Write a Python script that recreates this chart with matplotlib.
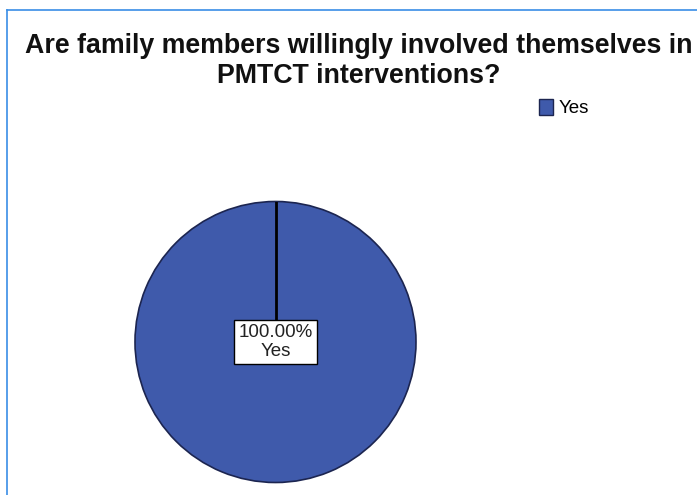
import matplotlib.pyplot as plt
from matplotlib.lines import Line2D
from matplotlib.patches import Patch

plt.rcParams["font.family"] = ["Liberation Sans", "DejaVu Sans"]

categories = ["Yes"]
percentages = [100.0]
title = "Are family members willingly involved themselves in\nPMTCT interventions?"

slice_colors = ["#3f5aab"]
edge_color = "#1c2550"

W, H = 697, 495
fig = plt.figure(figsize=(W / 100, H / 100), dpi=100)

# frame lines along top and left
fig.add_artist(Line2D([7 / W, 7 / W], [0, 1 - 10 / H], color="#3a8ee6", lw=1.2))
fig.add_artist(Line2D([7 / W, 1], [1 - 10 / H, 1 - 10 / H], color="#3a8ee6", lw=1.2))

fig.text(359 / W, 1 - 33 / H, title, ha="center", va="top", fontsize=19.3,
         fontweight="bold", linespacing=1.2, color="#111111")

cx, cy, r = 275.5, 342, 140.5
ax = fig.add_axes([(cx - r) / W, (H - cy - r) / H, 2 * r / W, 2 * r / H])
start = 90
wedges, _ = ax.pie(percentages, colors=slice_colors, startangle=start, counterclock=False,
                   wedgeprops=dict(edgecolor=edge_color, linewidth=1.2))
ax.set_xlim(-1, 1)
ax.set_ylim(-1, 1)
ax.axis("off")

# slice boundary at the start angle
w = wedges[0]
ax.plot([0, w.r * 0], [0, w.r * 1], color="black", lw=2, zorder=3)

for cat, pct in zip(categories, percentages):
    ax.text(0, 0, f"{pct:.2f}%\n{cat}", ha="center", va="center", fontsize=13.5,
            color="#222222", linespacing=1.1, zorder=4,
            bbox=dict(boxstyle="square,pad=0.25", fc="white", ec="black", lw=1))

handles = [Patch(facecolor=c, edgecolor=edge_color, label=lab)
           for c, lab in zip(slice_colors, categories)]
fig.legend(handles=handles, loc="upper left", bbox_to_anchor=(531 / W, 1 - 91 / H),
           frameon=False, fontsize=13.5, handlelength=0.75, handleheight=0.95,
           handletextpad=0.3, borderaxespad=0)

fig.savefig("out.png", dpi=100)
